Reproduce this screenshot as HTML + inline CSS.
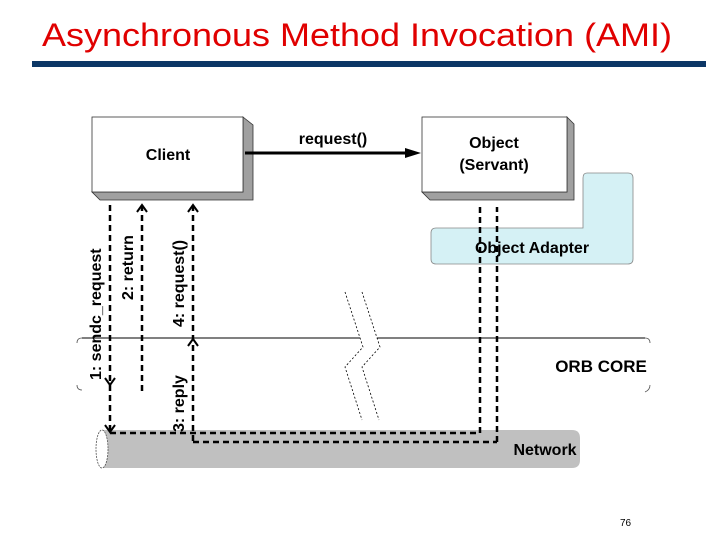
<!DOCTYPE html>
<html><head><style>body{margin:0;background:#fff}svg{display:block}</style></head><body>
<svg width="720" height="540" xmlns="http://www.w3.org/2000/svg" font-family="Liberation Sans, Arial, sans-serif">
<text x="42" y="46" font-size="32" fill="#e00000" textLength="630" lengthAdjust="spacingAndGlyphs">Asynchronous Method Invocation (AMI)</text>
<rect x="32" y="61" width="674" height="6" fill="#0c3766"/>
<!-- Object adapter -->
<path d="M587 173 H628 Q633 173 633 178 V259 Q633 264 628 264 H436 Q431 264 431 259 V233 Q431 228 436 228 H583 V178 Q583 173 587 173Z" fill="#d5f1f5" stroke="#888" stroke-width="0.8"/>
<text x="532" y="253" font-size="16" font-weight="bold" text-anchor="middle">Object Adapter</text>
<!-- Client box -->
<polygon points="243,117 253,125 253,200 100,200 92,192 243,192" fill="#a0a0a0" stroke="#333" stroke-width="0.8"/>
<rect x="92" y="117" width="151" height="75" fill="#fff" stroke="#333" stroke-width="0.8"/>
<text x="168" y="160" font-size="16" font-weight="bold" text-anchor="middle">Client</text>
<!-- Object box -->
<polygon points="567,117 574,124 574,200 430,200 422,192 567,192" fill="#a0a0a0" stroke="#333" stroke-width="0.8"/>
<rect x="422" y="117" width="145" height="75" fill="#fff" stroke="#333" stroke-width="0.8"/>
<text x="494" y="148" font-size="16" font-weight="bold" text-anchor="middle">Object</text>
<text x="494" y="170" font-size="16" font-weight="bold" text-anchor="middle">(Servant)</text>
<!-- request arrow -->
<line x1="245" y1="153" x2="408" y2="153" stroke="#000" stroke-width="3"/>
<polygon points="405,148 421,153 405,158" fill="#000"/>
<text x="333" y="144" font-size="16" font-weight="bold" text-anchor="middle">request()</text>
<!-- ORB core -->
<line x1="82" y1="338" x2="360" y2="338" stroke="#000" stroke-width="1"/>
<line x1="377" y1="338" x2="645" y2="338" stroke="#000" stroke-width="1"/>
<path d="M82 338 Q77 338 77 343 M77 385 Q77 390 82 390" fill="none" stroke="#555" stroke-width="0.8"/>
<path d="M645 338 Q650 338 650 343 M650 385 Q650 390 645 392" fill="none" stroke="#555" stroke-width="0.8"/>
<text x="601" y="372" font-size="17" font-weight="bold" text-anchor="middle">ORB CORE</text>
<!-- break lines -->
<polyline points="345,292 363,347 345,367 362,420" fill="none" stroke="#000" stroke-width="0.8" stroke-dasharray="2,2"/>
<polyline points="362,292 380,347 362,367 379,420" fill="none" stroke="#000" stroke-width="0.8" stroke-dasharray="2,2"/>
<!-- Network -->
<path d="M102 430 H572 Q580 430 580 438 V460 Q580 468 572 468 H102 Z" fill="#c0c0c0"/>
<ellipse cx="102" cy="449" rx="6" ry="19" fill="#fff" stroke="#555" stroke-width="0.8" stroke-dasharray="2,1"/>
<text x="545" y="455" font-size="16" font-weight="bold" text-anchor="middle">Network</text>
<!-- dashed flows -->
<g stroke="#000" stroke-width="2.5" stroke-dasharray="6,4" fill="none">
<line x1="110" y1="205" x2="110" y2="433"/>
<line x1="110" y1="433" x2="480" y2="433"/>
<line x1="480" y1="433" x2="480" y2="207"/>
<line x1="142" y1="205" x2="142" y2="395"/>
<line x1="193" y1="205" x2="193" y2="442"/>
<line x1="193" y1="442" x2="497" y2="442"/>
<line x1="497" y1="442" x2="497" y2="207"/>
</g>
<g stroke="#000" stroke-width="2" fill="none">
<polyline points="105,378 110,385 115,378"/>
<polyline points="105,425 110,432 115,425"/>
<polyline points="137,212 142,205 147,212"/>
<polyline points="188,212 193,205 198,212"/>
<polyline points="188,346 193,339 198,346"/>
</g>
<g font-size="16" font-weight="bold">
<text transform="translate(101,380) rotate(-90)">1: sendc_request</text>
<text transform="translate(133,300) rotate(-90)">2: return</text>
<text transform="translate(184,327) rotate(-90)">4: request()</text>
<text transform="translate(184,432) rotate(-90)">3: reply</text>
</g>
<text x="620" y="526" font-size="10">76</text>
</svg>
</body></html>
